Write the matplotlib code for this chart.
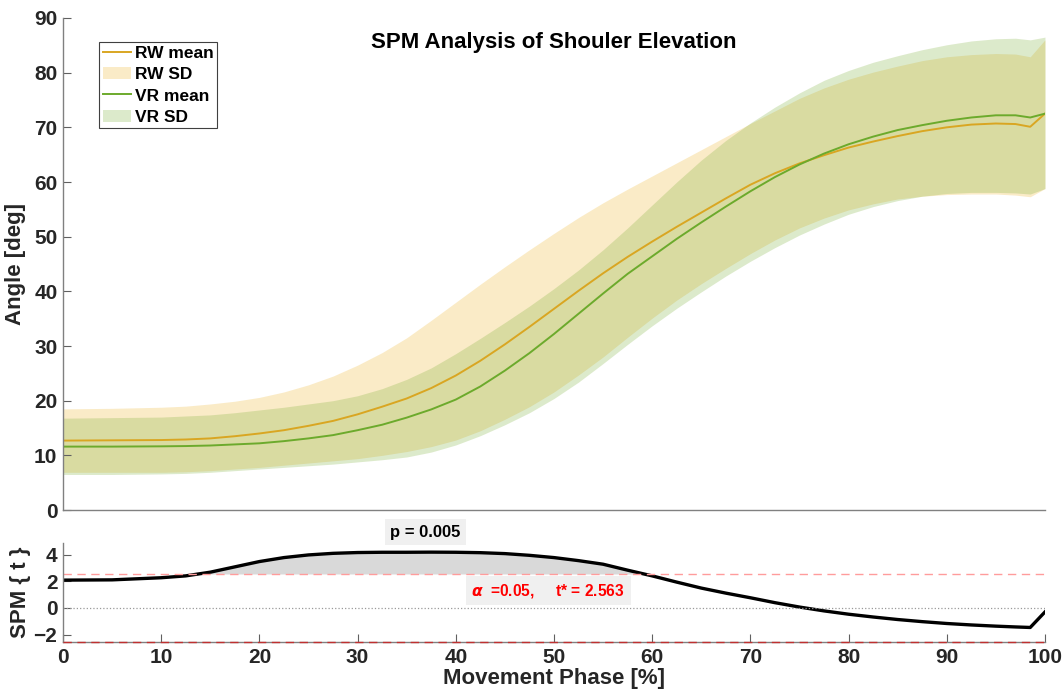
import matplotlib
matplotlib.use("Agg")
import matplotlib.pyplot as plt
from matplotlib.patches import Patch
from matplotlib.lines import Line2D

plt.rcParams['font.family'] = ['Liberation Sans', 'DejaVu Sans']
plt.rcParams['font.weight'] = 'bold'

# movement phase sample points [%]
phase = [0, 5, 10, 12.5, 15, 17.5, 20, 22.5, 25, 27.5, 30, 32.5, 35, 37.5, 40, 42.5, 45, 47.5,
         50, 52.5, 55, 57.5, 60, 62.5, 65, 67.5, 70, 72.5, 75, 77.5, 80, 82.5, 85, 87.5, 90,
         92.5, 95, 97, 98.5, 100]

rw_mean = [12.7, 12.75, 12.8, 12.9, 13.1, 13.5, 14.0, 14.6, 15.4, 16.3, 17.5, 18.9, 20.4, 22.3,
           24.6, 27.3, 30.3, 33.5, 36.8, 40.1, 43.3, 46.3, 49.1, 51.8, 54.4, 57.0, 59.5, 61.6,
           63.4, 64.9, 66.3, 67.4, 68.4, 69.3, 70.0, 70.5, 70.7, 70.6, 70.1, 72.5]
rw_upper = [18.5, 18.6, 18.8, 19.0, 19.4, 19.9, 20.6, 21.6, 22.9, 24.5, 26.5, 28.8, 31.5, 34.7,
            38.0, 41.3, 44.5, 47.6, 50.6, 53.5, 56.2, 58.7, 61.1, 63.5, 65.9, 68.3, 70.7, 73.0,
            75.3, 77.2, 78.8, 80.1, 81.2, 82.2, 82.9, 83.3, 83.5, 83.4, 82.9, 86.0]
rw_lower = [6.9, 6.9, 6.9, 7.0, 7.2, 7.5, 7.8, 8.2, 8.6, 9.0, 9.4, 10.0, 10.7, 11.6, 12.8, 14.5,
            16.6, 18.9, 21.6, 24.7, 28.0, 31.6, 35.1, 38.4, 41.4, 44.2, 46.9, 49.4, 51.6, 53.4,
            54.9, 56.0, 56.9, 57.4, 57.7, 57.8, 57.8, 57.6, 57.3, 58.8]

vr_mean = [11.6, 11.6, 11.65, 11.7, 11.8, 12.0, 12.2, 12.6, 13.1, 13.7, 14.6, 15.6, 16.9, 18.4,
           20.2, 22.6, 25.5, 28.7, 32.2, 35.9, 39.6, 43.2, 46.4, 49.6, 52.6, 55.5, 58.3, 60.9,
           63.2, 65.2, 66.9, 68.3, 69.5, 70.4, 71.2, 71.8, 72.2, 72.2, 71.8, 72.5]
vr_upper = [16.8, 16.9, 17.0, 17.2, 17.4, 17.8, 18.3, 18.8, 19.4, 20.0, 20.9, 22.2, 23.9, 26.0,
            28.6, 31.4, 34.3, 37.3, 40.5, 43.9, 47.6, 51.6, 55.8, 60.0, 64.0, 67.6, 70.8, 73.7,
            76.3, 78.6, 80.4, 81.9, 83.1, 84.2, 85.1, 85.8, 86.2, 86.3, 86.0, 86.5]
vr_lower = [6.5, 6.5, 6.6, 6.7, 6.9, 7.2, 7.5, 7.8, 8.1, 8.4, 8.8, 9.2, 9.7, 10.6, 11.9, 13.6,
            15.6, 17.8, 20.4, 23.4, 26.8, 30.3, 33.7, 36.9, 39.9, 42.8, 45.5, 48.0, 50.3, 52.3,
            54.1, 55.5, 56.6, 57.4, 57.9, 58.1, 58.1, 58.0, 57.8, 58.8]

# SPM{t} trajectory
spm_t = [2.1, 2.12, 2.28, 2.42, 2.7, 3.1, 3.5, 3.8, 4.0, 4.12, 4.18, 4.2, 4.2, 4.21, 4.2, 4.17,
         4.1, 3.97, 3.8, 3.57, 3.3, 2.85, 2.42, 1.95, 1.5, 1.12, 0.77, 0.4, 0.07, -0.22, -0.47,
         -0.68, -0.87, -1.03, -1.17, -1.28, -1.37, -1.43, -1.47, -0.3]
t_crit = 2.563

COL_RW = '#EDB120'
COL_VR = '#77AC30'
COL_RW_LINE = '#D9A622'
COL_VR_LINE = '#6CAA2C'
COL_AX = '#262626'

fig = plt.figure(figsize=(10.64, 7.0), dpi=100)
ax1 = fig.add_axes([0.0592, 0.2714, 0.9229, 0.7029])
ax2 = fig.add_axes([0.0592, 0.0829, 0.9229, 0.1414])

# ---- top panel: mean +/- SD ----
ax1.fill_between(phase, rw_lower, rw_upper, color=COL_RW, alpha=0.25, linewidth=0)
ax1.fill_between(phase, vr_lower, vr_upper, color=COL_VR, alpha=0.25, linewidth=0)
ax1.plot(phase, rw_mean, color=COL_RW_LINE, lw=1.4)
ax1.plot(phase, vr_mean, color=COL_VR_LINE, lw=1.4)

ax1.set_xlim(0, 100)
ax1.set_ylim(0, 90)
ax1.set_yticks(range(0, 91, 10))
ax1.set_xticks([])
ax1.set_ylabel('Angle [deg]', fontsize=16, fontweight='bold', color=COL_AX, labelpad=6)
ax1.text(50, 85.5, 'SPM Analysis of Shouler Elevation', ha='center', va='center',
         fontsize=16, fontweight='bold', color='black')

handles = [Line2D([], [], color=COL_RW_LINE, lw=1.4),
           Patch(facecolor=COL_RW, alpha=0.25, linewidth=0),
           Line2D([], [], color=COL_VR_LINE, lw=1.4),
           Patch(facecolor=COL_VR, alpha=0.25, linewidth=0)]
leg = ax1.legend(handles, ['RW mean', 'RW SD', 'VR mean', 'VR SD'], loc='upper left',
                 bbox_to_anchor=(0.037, 0.951), fontsize=12.5, fancybox=False, framealpha=1,
                 edgecolor='#404040', handlelength=1.6, handletextpad=0.25, borderpad=0.2,
                 labelspacing=0.36, borderaxespad=0)
leg.get_frame().set_linewidth(0.8)
for t in leg.get_texts():
    t.set_fontweight('bold')

# ---- bottom panel: SPM{t} ----
ax2.fill_between(phase, t_crit, spm_t, where=[v > t_crit for v in spm_t], interpolate=True,
                 color='#d9d9d9', linewidth=0)
ax2.plot(phase, spm_t, color='black', lw=2.4)
ax2.axhline(t_crit, color='#ff9c9c', ls='--', lw=1.0, dashes=(6, 4))
ax2.axhline(0, color='#999999', ls=':', lw=0.9)
ax2.axhline(-t_crit, color='#c03030', ls='--', lw=1.0, dashes=(6, 4), clip_on=False, zorder=5)

ax2.set_xlim(0, 100)
ax2.set_ylim(-t_crit, 4.9)
ax2.set_yticks([-2, 0, 2, 4])
ax2.set_xticks(range(0, 101, 10))
ax2.set_xlabel('Movement Phase [%]', fontsize=16, fontweight='bold', color=COL_AX, labelpad=1)
ax2.set_ylabel('SPM { t }', fontsize=16, fontweight='bold', color=COL_AX, labelpad=2)

ax2.text(36.9, 5.7, 'p = 0.005', ha='center', va='center', fontsize=12, fontweight='bold',
         color='black', clip_on=False,
         bbox=dict(facecolor='#f0f0f0', edgecolor='none', pad=4))
ax2.text(41.6, 1.3, r'$\alpha$  =0.05,     t* = 2.563', ha='left', va='center', fontsize=11.2,
         fontweight='bold', color='red',
         bbox=dict(facecolor='#f0f0f0', edgecolor='none', pad=4))

for ax in (ax1, ax2):
    for side in ('top', 'right'):
        ax.spines[side].set_visible(False)
    for side in ('left', 'bottom'):
        ax.spines[side].set_color('#808080')
        ax.spines[side].set_linewidth(1.0)
    ax.tick_params(direction='in', length=6, width=0.8, color='#606060',
                   labelsize=15, labelcolor=COL_AX, pad=4)
    for lbl in ax.get_xticklabels() + ax.get_yticklabels():
        lbl.set_fontweight('bold')

fig.savefig('out.png', dpi=100, facecolor='white')
